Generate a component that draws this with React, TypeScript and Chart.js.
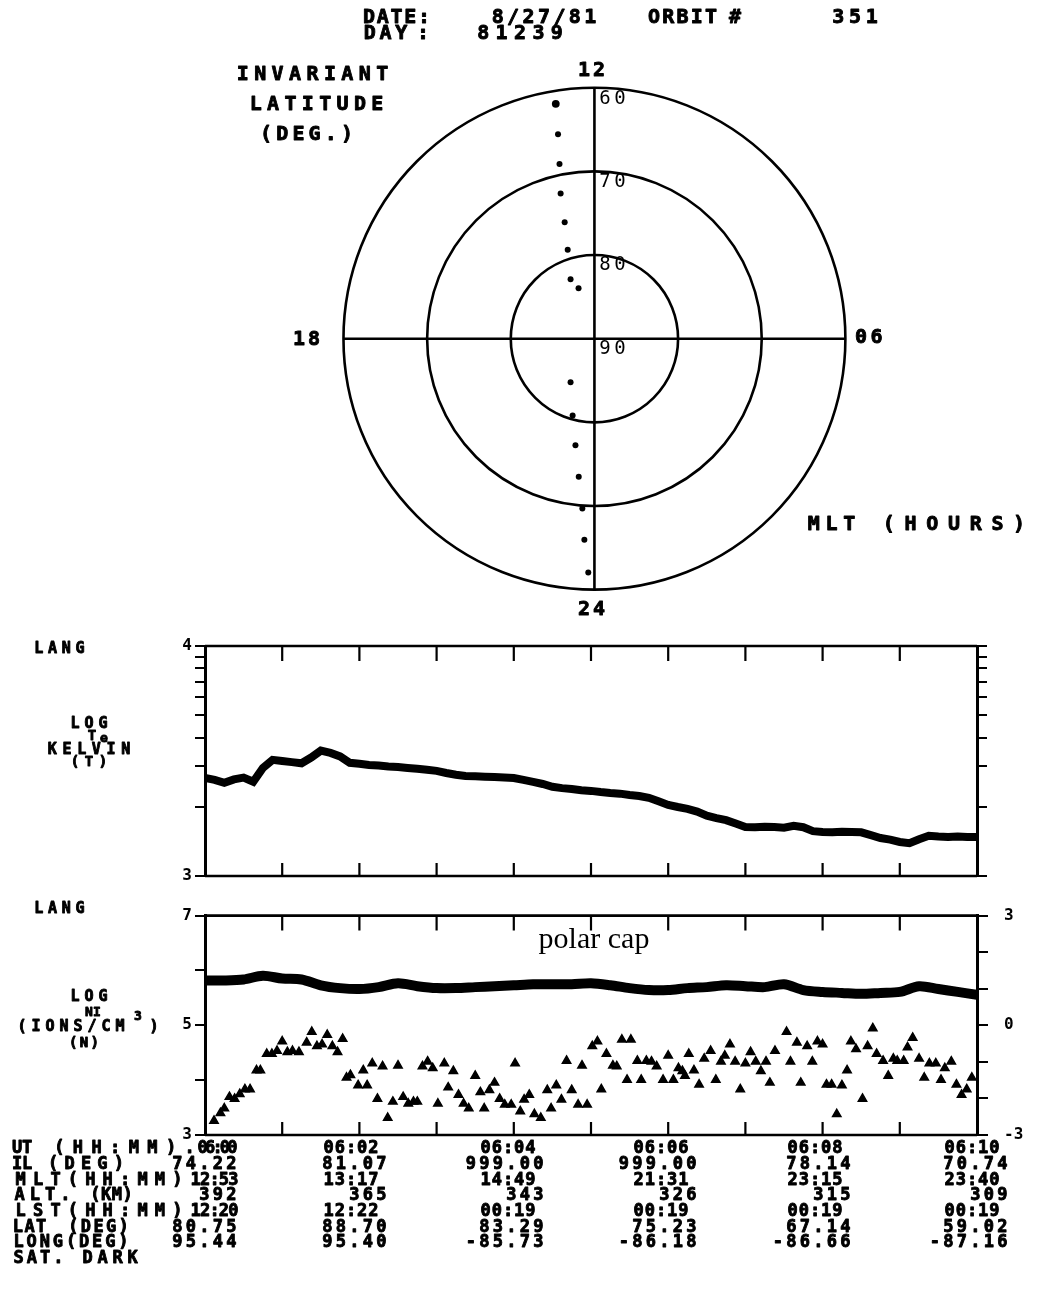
import React, { useEffect, useRef } from 'react';
import { Chart, registerables } from 'chart.js';

Chart.register(...registerables);

// ---------------- data ----------------
// header
const HEADER_DATE = '8/27/81';
const HEADER_ORBIT = '351';
const HEADER_DAY = '81239';

// polar (invariant latitude / MLT) trajectory dots
const ORBIT_IL = [61.4, 65.05, 68.6, 72.1, 75.55, 78.85, 82.3, 83.65, 84.05, 80.4, 77.0, 73.3, 69.55, 65.8, 61.9];
const ORBIT_MLT = [12.62, 12.67, 12.75, 12.87, 12.95, 13.11, 13.45, 13.16, 22.09, 22.95, 23.33, 23.57, 23.73, 23.81, 23.9];
const RING_LATS = [80, 70, 60];
const RING_LABELS = ['60', '70', '80', '90'];
const HOUR_LABELS = ['12', '24', '18', '06'];

// time axis (seconds after 06:00)
const TIME_TICKS = [0, 60, 120, 180, 240, 300, 360, 420, 480, 540, 600];

// panel 1 : log Te
const TE_TICKS = [3, 3.301, 3.477, 3.602, 3.699, 3.778, 3.845, 3.903, 3.954, 4];
const TE_SEC = [
  0, 7.5, 15, 22.5, 30, 37.5, 45, 52.5,
  60, 67.5, 75, 82.5, 90, 97.5, 105, 112.5,
  120, 127.5, 135, 142.5, 150, 157.5, 165, 172.5,
  180, 187.5, 195, 202.5, 210, 217.5, 225, 232.5,
  240, 247.5, 255, 262.5, 270, 277.5, 285, 292.5,
  300, 307.5, 315, 322.5, 330, 337.5, 345, 352.5,
  360, 367.5, 375, 382.5, 390, 397.5, 405, 412.5,
  420, 427.5, 435, 442.5, 450, 457.5, 465, 472.5,
  480, 487.5, 495, 502.5, 510, 517.5, 525, 532.5,
  540, 547.5, 555, 562.5, 570, 577.5, 585, 592.5,
  600,
];
const TE_LOG = [
  3.426, 3.418, 3.405, 3.42, 3.428, 3.41, 3.47, 3.505,
  3.5, 3.495, 3.49, 3.515, 3.545, 3.535, 3.52, 3.492,
  3.488, 3.483, 3.48, 3.476, 3.474, 3.47, 3.466, 3.462,
  3.457, 3.448, 3.44, 3.435, 3.434, 3.432, 3.43, 3.428,
  3.426, 3.418, 3.409, 3.4, 3.388, 3.382, 3.378, 3.373,
  3.37, 3.365, 3.361, 3.358, 3.352, 3.348, 3.34, 3.325,
  3.309, 3.3, 3.292, 3.28, 3.262, 3.252, 3.243, 3.228,
  3.213, 3.212, 3.214, 3.213, 3.21, 3.218, 3.212, 3.195,
  3.191, 3.19, 3.192, 3.191, 3.19, 3.178, 3.165, 3.158,
  3.148, 3.143, 3.16, 3.175, 3.172, 3.17, 3.172, 3.17,
  3.17,
];

// panel 2 : log Ni (left axis) and triangles (right axis)
const NI_SEC = [0, 15, 30, 45, 60, 75, 90, 105, 120, 135, 150, 165, 180, 195, 210, 225, 240, 255, 270, 285, 300, 315, 330, 345, 360, 375, 390, 405, 420, 435, 450, 465, 480, 495, 510, 525, 540, 555, 570, 585, 600];
const NI_LOG = [
  5.817, 5.817, 5.835, 5.904, 5.852, 5.835, 5.73, 5.678, 5.661, 5.696,
  5.765, 5.713, 5.678, 5.678, 5.696, 5.713, 5.73, 5.748, 5.748, 5.748,
  5.765, 5.73, 5.678, 5.643, 5.643, 5.678, 5.696, 5.73, 5.713, 5.696,
  5.748, 5.643, 5.609, 5.591, 5.574, 5.591, 5.609, 5.713, 5.661, 5.609,
  5.557,
];
const TRI_SEC = [
  7, 12, 15, 19, 23, 27, 31, 35, 40, 43,
  48, 52, 56, 60, 64, 68, 73, 79, 83, 87,
  91, 95, 99, 103, 107, 110, 113, 119, 123, 126,
  130, 134, 138, 142, 146, 150, 154, 158, 162, 165,
  169, 173, 177, 181, 186, 189, 193, 197, 201, 205,
  210, 214, 217, 221, 225, 229, 233, 238, 241, 245,
  248, 252, 256, 261, 266, 269, 273, 277, 281, 285,
  290, 293, 297, 301, 305, 308, 312, 317, 320, 324,
  328, 331, 336, 339, 343, 347, 351, 356, 360, 364,
  368, 371, 373, 376, 380, 384, 388, 393, 397, 401,
  404, 408, 412, 416, 420, 424, 428, 432, 436, 439,
  443, 452, 455, 460, 463, 468, 472, 476, 480, 483,
  487, 491, 495, 499, 502, 506, 511, 515, 519, 522,
  527, 531, 535, 538, 543, 546, 550, 555, 559, 563,
  568, 572, 575, 580, 584, 588, 592, 596,
];
const TRI_VAL = [
  -2.61, -2.4, -2.27, -1.96, -2.01, -1.88, -1.75, -1.75, -1.23, -1.23,
  -0.78, -0.78, -0.7, -0.44, -0.73, -0.7, -0.73, -0.47, -0.18, -0.57,
  -0.52, -0.26, -0.57, -0.73, -0.37, -1.43, -1.36, -1.64, -1.23, -1.64,
  -1.04, -2.01, -1.12, -2.53, -2.09, -1.1, -1.96, -2.14, -2.09, -2.09,
  -1.12, -0.99, -1.17, -2.14, -1.04, -1.7, -1.25, -1.9, -2.14, -2.27,
  -1.38, -1.83, -2.27, -1.77, -1.57, -2.01, -2.17, -2.17, -1.04, -2.35,
  -2.03, -1.9, -2.43, -2.53, -1.77, -2.27, -1.64, -2.03, -0.97, -1.77,
  -2.17, -1.1, -2.17, -0.57, -0.44, -1.75, -0.78, -1.1, -1.12, -0.39,
  -1.49, -0.39, -0.97, -1.49, -0.97, -0.99, -1.12, -1.49, -0.83, -1.49,
  -1.17, -1.25, -1.38, -0.78, -1.23, -1.62, -0.91, -0.7, -1.49, -0.99,
  -0.83, -0.52, -0.99, -1.75, -1.04, -0.73, -0.99, -1.25, -0.99, -1.57,
  -0.7, -0.18, -0.99, -0.47, -1.57, -0.57, -0.99, -0.44, -0.52, -1.62,
  -1.62, -2.43, -1.64, -1.23, -0.44, -0.65, -2.01, -0.57, -0.08, -0.78,
  -0.97, -1.38, -0.91, -0.97, -0.97, -0.6, -0.34, -0.91, -1.43, -1.04,
  -1.04, -1.49, -1.17, -0.99, -1.62, -1.9, -1.75, -1.43,
];

// table
const UT_ROW = ['06:00', '06:02', '06:04', '06:06', '06:08', '06:10'];
const IL_ROW = ['74.22', '81.07', '999.00', '999.00', '78.14', '70.74'];
const MLT_ROW = ['12:53', '13:17', '14:49', '21:31', '23:15', '23:40'];
const ALT_ROW = ['392', '365', '343', '326', '315', '309'];
const LST_ROW = ['12:20', '12:22', '00:19', '00:19', '00:19', '00:19'];
const LAT_ROW = ['80.75', '88.70', '83.29', '75.23', '67.14', '59.02'];
const LONG_ROW = ['95.44', '95.40', '-85.73', '-86.18', '-86.66', '-87.16'];

// ---------------- drawing helpers ----------------
const MONO = '"DejaVu Sans Mono", "Liberation Mono", monospace';
const B = (px: number) => `bold ${px}px ${MONO}`;
const N = (px: number) => `${px}px ${MONO}`;

function cells(
  ctx: CanvasRenderingContext2D,
  text: string,
  x0: number,
  x1: number,
  y: number,
  font: string,
  heavy = true,
) {
  ctx.font = font;
  ctx.textAlign = 'center';
  ctx.textBaseline = 'middle';
  ctx.fillStyle = '#000';
  ctx.strokeStyle = '#000';
  ctx.lineWidth = 0.9;
  ctx.lineJoin = 'round';
  const c = (x1 - x0) / text.length;
  for (let i = 0; i < text.length; i++) {
    if (text[i] === ' ') continue;
    const px = x0 + c * (i + 0.5);
    ctx.fillText(text[i], px, y);
    if (heavy) ctx.strokeText(text[i], px, y);
  }
}
function cellsRight(ctx: CanvasRenderingContext2D, text: string, xr: number, y: number, cell: number, font: string) {
  cells(ctx, text, xr - cell * text.length, xr, y, font);
}

const PX_PER_DEG = 8.43;
const POLAR_W = 1042;
const POLAR_H = 630;
const POLAR_CX = 595;
const POLAR_CY = 339;

const polarPlugin = {
  id: 'polarFrame',
  beforeDatasetsDraw(chart: any) {
    const { ctx } = chart;
    const sx = chart.scales.x;
    const sy = chart.scales.y;
    const cx = sx.getPixelForValue(0);
    const cy = sy.getPixelForValue(0);
    const unit = sx.getPixelForValue(1) - cx;
    ctx.save();
    ctx.strokeStyle = '#000';
    ctx.lineWidth = 2.6;
    for (const lat of RING_LATS) {
      ctx.beginPath();
      ctx.arc(cx, cy, (90 - lat) * unit, 0, Math.PI * 2);
      ctx.stroke();
    }
    const R = (90 - 60) * unit;
    ctx.beginPath();
    ctx.moveTo(cx - R, cy);
    ctx.lineTo(cx + R, cy);
    ctx.moveTo(cx, cy - R);
    ctx.lineTo(cx, cy + R);
    ctx.stroke();
    // ring labels
    RING_LABELS.forEach((lab) => {
      const lat = Number(lab);
      const py = sy.getPixelForValue(90 - lat);
      cells(ctx, lab, cx + 3, cx + 33, py + 10, N(19), false);
    });
    // hour labels
    cells(ctx, HOUR_LABELS[0], cx - 18, cx + 12, cy - R - 17, B(20));
    cells(ctx, HOUR_LABELS[1], cx - 18, cx + 12, cy + R + 20, B(20));
    cells(ctx, HOUR_LABELS[2], cx - R - 52, cx - R - 22, cy + 1, B(20));
    cells(ctx, HOUR_LABELS[3], cx + R + 8, cx + R + 39, cy - 1, B(20));
    ctx.restore();
  },
  afterDraw(chart: any) {
    const { ctx } = chart;
    ctx.save();
    // header
    cells(ctx, 'DATE:', 362, 431, 18, B(20));
    cells(ctx, HEADER_DATE, 490, 598, 18, B(20));
    cells(ctx, 'ORBIT', 647, 718, 18, B(20));
    cells(ctx, '#', 728, 742, 18, B(20));
    cells(ctx, HEADER_ORBIT, 830, 880, 18, B(20));
    cells(ctx, 'DAY', 362, 409, 34, B(20));
    cells(ctx, ':', 416, 430, 34, B(20));
    cells(ctx, HEADER_DAY, 474, 566, 34, B(20));
    // left labels
    cells(ctx, 'INVARIANT', 234, 391, 75, B(20));
    cells(ctx, 'LATITUDE', 247, 386, 105, B(20));
    cells(ctx, '(DEG.)', 258, 355, 135, B(20));
    // MLT label
    cells(ctx, 'MLT', 805, 858, 525, B(20));
    cells(ctx, '(HOURS)', 878, 1030, 525, B(20));
    ctx.restore();
  },
};

function PolarChart() {
  const ref = useRef<HTMLCanvasElement>(null);
  useEffect(() => {
    const pts = ORBIT_IL.map((il, i) => {
      const r = 90 - il;
      const a = ((ORBIT_MLT[i] - 6) * Math.PI) / 12;
      return { x: r * Math.cos(a), y: r * Math.sin(a) };
    });
    const chart = new Chart(ref.current as HTMLCanvasElement, {
      type: 'scatter',
      data: {
        datasets: [
          {
            data: pts,
            backgroundColor: '#000',
            borderColor: '#000',
            borderWidth: 0,
            pointRadius: (c: any) => (c.dataIndex === 0 ? 3.9 : 3),
          },
        ],
      },
      options: {
        responsive: false,
        animation: false,
        devicePixelRatio: 1,
        events: [],
        layout: { padding: 0 },
        plugins: { legend: { display: false }, tooltip: { enabled: false } },
        scales: {
          x: { type: 'linear', display: false, min: -POLAR_CX / PX_PER_DEG, max: (POLAR_W - POLAR_CX) / PX_PER_DEG },
          y: { type: 'linear', display: false, min: -(POLAR_H - POLAR_CY) / PX_PER_DEG, max: POLAR_CY / PX_PER_DEG },
        },
      } as any,
      plugins: [polarPlugin],
    });
    return () => chart.destroy();
  }, []);
  return (
    <canvas
      ref={ref}
      width={POLAR_W}
      height={POLAR_H}
      style={{ position: 'absolute', left: 0, top: 0, width: POLAR_W, height: POLAR_H }}
    />
  );
}

const TICK_FONT = { family: '"DejaVu Sans Mono", monospace', size: 16, weight: 'bold' as const };

function frameDraw(chart: any) {
  const { ctx, chartArea } = chart;
  const { left, right, top, bottom } = chartArea;
  const sx = chart.scales.x;
  ctx.save();
  ctx.strokeStyle = '#000';
  ctx.lineWidth = 2.6;
  ctx.beginPath();
  ctx.moveTo(left, top);
  ctx.lineTo(right, top);
  ctx.moveTo(left, bottom);
  ctx.lineTo(right, bottom);
  ctx.stroke();
  ctx.lineWidth = 2.2;
  TIME_TICKS.slice(1, -1).forEach((t) => {
    const px = sx.getPixelForValue(t);
    ctx.beginPath();
    ctx.moveTo(px, top);
    ctx.lineTo(px, top + 15);
    ctx.moveTo(px, bottom);
    ctx.lineTo(px, bottom - 13);
    ctx.stroke();
  });
  ctx.restore();
}

const P1_TOP = 630;
const P1_H = 260;
const P2_TOP = 890;
const P2_H = 414;

const panel1Plugin = {
  id: 'panel1Frame',
  afterDraw(chart: any) {
    frameDraw(chart);
    const ctx = chart.ctx;
    const o = P1_TOP;
    ctx.save();
    cells(ctx, 'LANG', 32, 87, 649 - o, B(15));
    cells(ctx, 'LOG', 68, 110, 724 - o, B(15));
    cells(ctx, 'T', 87, 97, 736 - o, B(14));
    cells(ctx, 'e', 99, 109, 739 - o, B(13));
    cells(ctx, 'KELVIN', 45, 133, 750 - o, B(15));
    cells(ctx, '(T)', 68, 110, 762 - o, B(14));
    ctx.restore();
  },
};

const panel2Plugin = {
  id: 'panel2Frame',
  afterDraw(chart: any) {
    frameDraw(chart);
    const ctx = chart.ctx;
    const o = P2_TOP;
    ctx.save();
    cells(ctx, 'LANG', 32, 87, 909 - o, B(15));
    cells(ctx, 'LOG', 68, 110, 997 - o, B(15));
    cells(ctx, 'NI', 85, 101, 1013 - o, B(13));
    cells(ctx, '(IONS/CM', 15, 127, 1027 - o, B(15));
    cells(ctx, '3', 132, 144, 1017 - o, B(13));
    cells(ctx, ')', 148, 160, 1027 - o, B(15));
    cells(ctx, '(N)', 68, 100, 1043 - o, B(14));

    ctx.font = '30px "Liberation Serif", "Times New Roman", serif';
    ctx.textAlign = 'center';
    ctx.textBaseline = 'alphabetic';
    ctx.fillStyle = '#000';
    ctx.fillText('polar cap', 594, 948 - o);

    // table
    const rowY = [1149, 1164.7, 1180.4, 1196, 1211.8, 1227.5, 1243, 1259].map((v) => v - o);
    const colR = [238, 388, 545, 698, 852, 1009];
    const F = B(17);
    const cell = 13.5;
    cells(ctx, 'UT', 12, 32, rowY[0], F);
    cells(ctx, '(HH:MM).', 50, 199, rowY[0], F);
    cells(ctx, 'IL', 12, 32, rowY[1], F);
    cells(ctx, '(DEG)', 45, 127, rowY[1], F);
    cells(ctx, 'MLT(HH:MM)', 12, 186, rowY[2], F);
    cells(ctx, 'ALT.', 12, 73, rowY[3], F);
    cells(ctx, '(KM)', 90, 133, rowY[3], F);
    cells(ctx, 'LST(HH:MM)', 12, 186, rowY[4], F);
    cells(ctx, 'LAT', 12, 47, rowY[5], F);
    cells(ctx, '(DEG)', 67, 130, rowY[5], F);
    cells(ctx, 'LONG(DEG)', 12, 130, rowY[6], F);
    cells(ctx, 'SAT.', 12, 65, rowY[7], F);
    cells(ctx, 'DARK', 80, 140, rowY[7], F);
    const rows = [UT_ROW, IL_ROW, MLT_ROW, ALT_ROW, LST_ROW, LAT_ROW, LONG_ROW];
    rows.forEach((row, r) => {
      row.forEach((txt, c) => {
        const isTime = txt.indexOf(':') >= 0;
        if (c === 0 && r === 0) {
          cells(ctx, txt, 199, 236, rowY[0], F);
        } else if (c === 0 && isTime) {
          cells(ctx, txt, 191, 238, rowY[r], F);
        } else if (isTime) {
          cellsRight(ctx, txt, colR[c] - 9, rowY[r], 11.2, F);
        } else {
          cellsRight(ctx, txt, colR[c], rowY[r], cell, F);
        }
      });
    });
    ctx.restore();
  },
};

const baseY = (extra: any) => ({
  type: 'linear',
  grid: { drawOnChartArea: false, drawTicks: true, tickLength: 10, lineWidth: 2, color: '#000' },
  border: { display: true, width: 3, color: '#000' },
  ...extra,
});

function PanelTe() {
  const ref = useRef<HTMLCanvasElement>(null);
  useEffect(() => {
    const chart = new Chart(ref.current as HTMLCanvasElement, {
      type: 'line',
      data: {
        datasets: [
          {
            data: TE_SEC.map((s, i) => ({ x: s, y: TE_LOG[i] })),
            borderColor: '#000',
            borderWidth: 8,
            pointRadius: 0,
            tension: 0,
            yAxisID: 'y',
          },
        ],
      },
      options: {
        responsive: false,
        animation: false,
        devicePixelRatio: 1,
        events: [],
        layout: { padding: { top: 16, bottom: 14, left: 0, right: 0 } },
        plugins: { legend: { display: false }, tooltip: { enabled: false } },
        scales: {
          x: { type: 'linear', min: 0, max: 600, display: false },
          y: baseY({
            position: 'left',
            min: 3,
            max: 4,
            afterBuildTicks: (s: any) => {
              s.ticks = TE_TICKS.map((v) => ({ value: v }));
            },
            afterFit: (s: any) => {
              s.width = 205;
            },
            ticks: {
              autoSkip: false,
              padding: 3,
              color: '#000',
              font: TICK_FONT,
              callback: (v: any) => (v === 3 ? '3' : v === 4 ? '4' : ''),
            },
          }),
          y2: baseY({
            position: 'right',
            min: 3,
            max: 4,
            afterBuildTicks: (s: any) => {
              s.ticks = TE_TICKS.map((v) => ({ value: v }));
            },
            afterFit: (s: any) => {
              s.width = 65;
            },
            ticks: { autoSkip: false, padding: 3, color: '#000', font: TICK_FONT, callback: () => '' },
          }),
        },
      } as any,
      plugins: [panel1Plugin],
    });
    return () => chart.destroy();
  }, []);
  return (
    <canvas
      ref={ref}
      width={1042}
      height={P1_H}
      style={{ position: 'absolute', left: 0, top: P1_TOP, width: 1042, height: P1_H }}
    />
  );
}

function PanelNi() {
  const ref = useRef<HTMLCanvasElement>(null);
  useEffect(() => {
    const chart = new Chart(ref.current as HTMLCanvasElement, {
      type: 'line',
      data: {
        datasets: [
          {
            data: NI_SEC.map((s, i) => ({ x: s, y: NI_LOG[i] })),
            borderColor: '#000',
            borderWidth: 10,
            pointRadius: 0,
            tension: 0.3,
            yAxisID: 'y',
          },
          {
            data: TRI_SEC.map((s, i) => ({ x: s, y: TRI_VAL[i] })),
            showLine: false,
            pointStyle: 'triangle',
            pointRadius: 4.8,
            backgroundColor: '#000',
            borderColor: '#000',
            borderWidth: 1.5,
            yAxisID: 'y2',
          },
        ],
      },
      options: {
        responsive: false,
        animation: false,
        devicePixelRatio: 1,
        events: [],
        layout: { padding: { top: 15, bottom: P2_H - 245, left: 0, right: 0 } },
        plugins: { legend: { display: false }, tooltip: { enabled: false } },
        scales: {
          x: { type: 'linear', min: 0, max: 600, display: false },
          y: baseY({
            position: 'left',
            min: 3,
            max: 7,
            afterFit: (s: any) => {
              s.width = 205;
            },
            ticks: {
              stepSize: 1,
              autoSkip: false,
              padding: 3,
              color: '#000',
              font: TICK_FONT,
              callback: (v: any) => (v === 3 || v === 5 || v === 7 ? String(v) : ''),
            },
          }),
          y2: baseY({
            position: 'right',
            min: -3,
            max: 3,
            grid: { drawOnChartArea: false, drawTicks: true, tickLength: 11, lineWidth: 2, color: '#000' },
            afterFit: (s: any) => {
              s.width = 65;
            },
            ticks: {
              stepSize: 1,
              autoSkip: false,
              padding: 16,
              color: '#000',
              font: TICK_FONT,
              callback: (v: any) => (v === 3 ? '3' : v === 0 ? '0' : v === -3 ? '-3' : ''),
            },
          }),
        },
      } as any,
      plugins: [panel2Plugin],
    });
    return () => chart.destroy();
  }, []);
  return (
    <canvas
      ref={ref}
      width={1042}
      height={P2_H}
      style={{ position: 'absolute', left: 0, top: P2_TOP, width: 1042, height: P2_H }}
    />
  );
}

export default function App() {
  return (
    <div style={{ position: 'absolute', left: 0, top: 0, width: 1042, height: 1304, background: '#fff', overflow: 'hidden' }}>
      <PolarChart />
      <PanelTe />
      <PanelNi />
    </div>
  );
}
